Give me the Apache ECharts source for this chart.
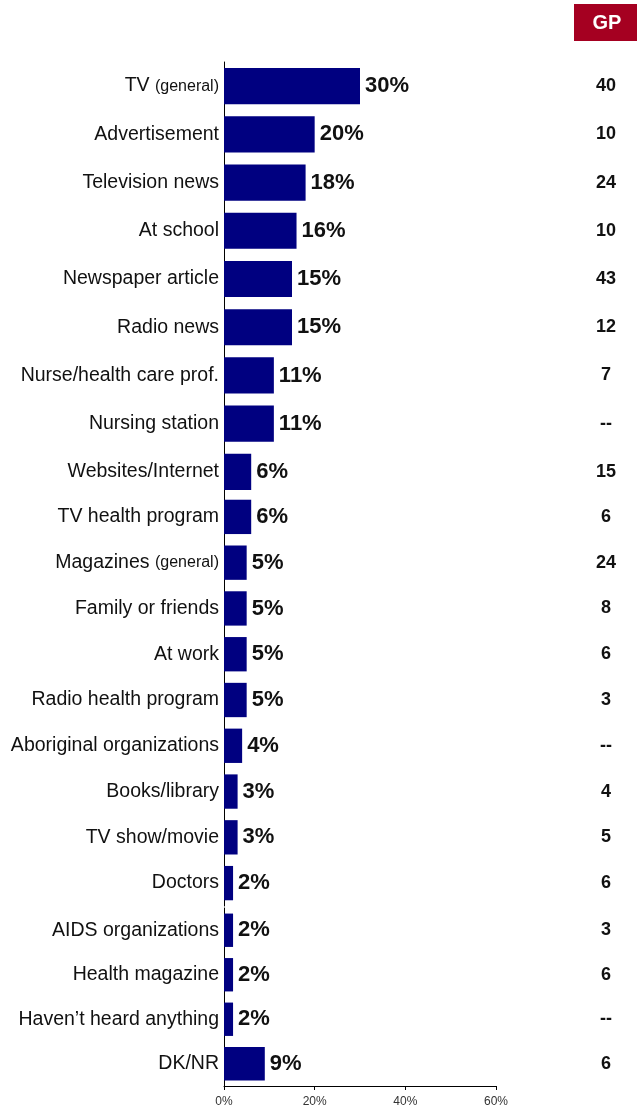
<!DOCTYPE html>
<html>
<head>
<meta charset="utf-8">
<script src="https://cdn.jsdelivr.net/npm/echarts@6/dist/echarts.min.js"></script>
<style>
  html, body { margin: 0; padding: 0; background: #fff; }
  #chart { width: 637px; height: 1108px; }
</style>
</head>
<body>
<div id="chart"></div>
<script>
// 数据
const categories = [
  'TV (general)', 'Advertisement', 'Television news', 'At school',
  'Newspaper article', 'Radio news', 'Nurse/health care prof.', 'Nursing station',
  'Websites/Internet', 'TV health program', 'Magazines (general)', 'Family or friends',
  'At work', 'Radio health program', 'Aboriginal organizations', 'Books/library',
  'TV show/movie', 'Doctors', 'AIDS organizations', 'Health magazine',
  'Haven\u2019t heard anything', 'DK/NR'
]
const percents = [30, 20, 18, 16, 15, 15, 11, 11, 6, 6, 5, 5, 5, 5, 4, 3, 3, 2, 2, 2, 2, 9]
const gpValues = ['40', '10', '24', '10', '43', '12', '7', '--', '15', '6', '24', '8',
  '6', '3', '--', '4', '5', '6', '3', '6', '--', '6']
const xTicks = [0, 20, 40, 60]

const SANS = '"Liberation Sans", Arial, sans-serif'

// 原图是三块拼起来的，每块行距略不同
const parts = [
  { from: 0, to: 9, top: 62, height: 434, gpPad: 5 },
  { from: 9, to: 18, top: 494, height: 412, gpPad: 1 },
  { from: 18, to: 22, top: 908, height: 178, gpPad: 5 }
]

let myChart = echarts.init(document.getElementById('chart'))

// 标签里的括号部分字号小一点
function catLabel (v) {
  let i = v.indexOf('(')
  if (i > 0) {
    return '{a|' + v.slice(0, i) + '}{b|' + v.slice(i) + '}'
  }
  return '{a|' + v + '}'
}

let grids = []
let xAxes = []
let yAxes = []
let series = []

parts.forEach((p, k) => {
  let last = k === parts.length - 1
  grids.push({ left: 224, width: 272, top: p.top, height: p.height, outerBoundsMode: 'none' })
  xAxes.push({
    gridIndex: k,
    type: 'value',
    show: last,
    min: xTicks[0],
    max: xTicks[xTicks.length - 1],
    interval: 20,
    axisLine: { show: true, lineStyle: { color: '#000', width: 1 } },
    axisTick: { show: true, length: 4, lineStyle: { color: '#000' } },
    splitLine: { show: false },
    axisLabel: {
      formatter: '{value}%',
      fontFamily: SANS,
      fontSize: 12,
      color: '#333',
      margin: 10
    }
  })
  yAxes.push({
    gridIndex: k,
    type: 'category',
    data: categories.slice(p.from, p.to),
    inverse: true,
    axisLine: { show: true, onZero: false, lineStyle: { color: '#000', width: 1 } },
    axisTick: { show: false },
    axisLabel: {
      margin: 5,
      formatter: catLabel,
      rich: {
        a: { fontFamily: SANS, fontSize: 19.5, color: '#111' },
        b: { fontFamily: SANS, fontSize: 16, color: '#111' }
      }
    }
  })
  yAxes.push({
    gridIndex: k,
    type: 'category',
    data: gpValues.slice(p.from, p.to),
    inverse: true,
    position: 'right',
    axisLine: { show: false },
    axisTick: { show: false },
    axisLabel: {
      align: 'center',
      margin: 110,
      fontFamily: SANS,
      fontWeight: 'bold',
      fontSize: 18,
      color: '#111',
      padding: [p.gpPad * 2, 0, 0, 0]
    }
  })
  series.push({
    type: 'bar',
    xAxisIndex: k,
    yAxisIndex: k * 2,
    data: percents.slice(p.from, p.to),
    barCategoryGap: '25%',
    itemStyle: { color: '#000080' },
    label: {
      show: true,
      position: 'right',
      distance: 5,
      formatter: '{c}%',
      fontFamily: SANS,
      fontWeight: 'bold',
      fontSize: 22,
      color: '#111'
    }
  })
})

let option = {
  animation: false,
  grid: grids,
  xAxis: xAxes,
  yAxis: yAxes,
  series: series,
  graphic: [
    {
      type: 'rect',
      shape: { x: 574, y: 4, width: 63, height: 37 },
      style: { fill: '#a50021' }
    },
    {
      type: 'text',
      x: 607,
      y: 23,
      style: {
        text: 'GP',
        fill: '#fff',
        font: 'bold 20px ' + SANS,
        align: 'center',
        verticalAlign: 'middle'
      }
    }
  ]
}

myChart.setOption(option)
</script>
</body>
</html>
